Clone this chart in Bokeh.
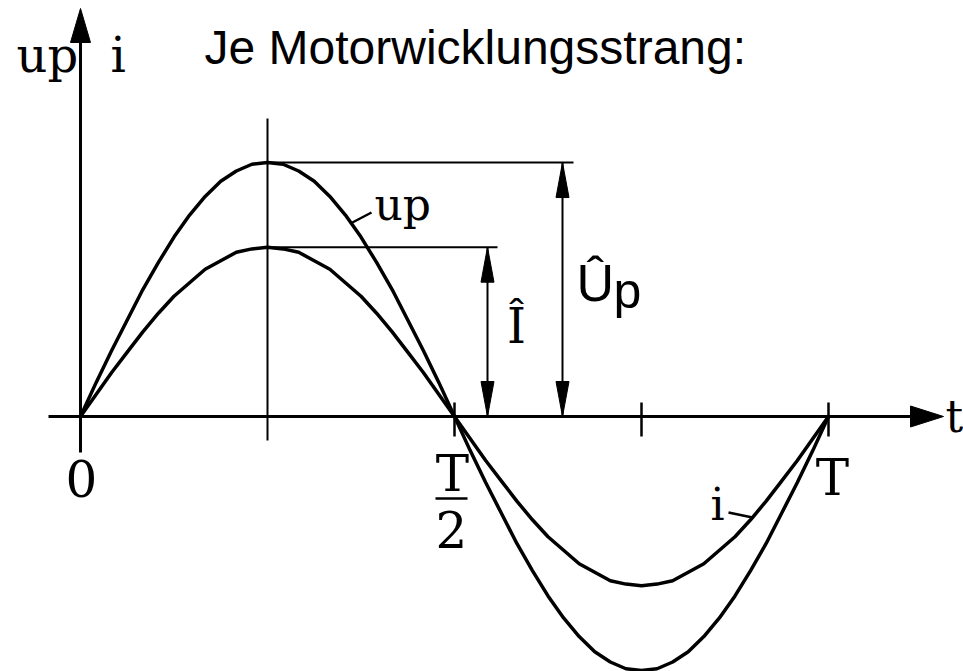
from bokeh.plotting import figure
from bokeh.models import Range1d
from bokeh.core.properties import value
from bokeh.embed import file_html
from bokeh.resources import INLINE

# ---------------- data ----------------
title = "Je Motorwicklungsstrang:"
# sample positions as fractions of the period T (steps of T/48)
phase = [k / 48 for k in range(49)]
up_vals = [0.00, 0.20, 0.39, 0.57, 0.75, 0.91, 1.06, 1.19, 1.30, 1.39, 1.45, 1.49,
           1.50, 1.49, 1.45, 1.39, 1.30, 1.19, 1.06, 0.91, 0.75, 0.57, 0.39, 0.20,
           0.00, -0.20, -0.39, -0.57, -0.75, -0.91, -1.06, -1.19, -1.30, -1.39, -1.45, -1.49,
           -1.50, -1.49, -1.45, -1.39, -1.30, -1.19, -1.06, -0.91, -0.75, -0.57, -0.39, -0.20,
           0.00]
i_vals = [0.00, 0.13, 0.26, 0.38, 0.50, 0.61, 0.71, 0.79, 0.87, 0.92, 0.97, 0.99,
          1.00, 0.99, 0.97, 0.92, 0.87, 0.79, 0.71, 0.61, 0.50, 0.38, 0.26, 0.13,
          0.00, -0.13, -0.26, -0.38, -0.50, -0.61, -0.71, -0.79, -0.87, -0.92, -0.97, -0.99,
          -1.00, -0.99, -0.97, -0.92, -0.87, -0.79, -0.71, -0.61, -0.50, -0.38, -0.26, -0.13,
          0.00]
up_hat = 1.50
i_hat = 1.00
peak_t = 0.25
tick_t = [0.5, 0.75, 1.0]
tick_labels = ["0", "T", "2", "T"]

# ---------------- layout helpers ----------------
W, H = 963, 671
SX, SY = 748.0, 169.3          # pixels per unit (t in T, y in amplitude units)
OX, OY = 80, 416               # picture position of the origin


def X(px):
    return (px - OX) / SX


def Y(py):
    return (OY - py) / SY


def head(tx, ty, dx, dy, L, Wd):
    """Arrow head polygon: tip at (tx,ty) (data), direction (dx,dy) in screen units (y up)."""
    bx, by = -dx * L, -dy * L
    nx, ny = -dy, dx
    xs = [tx, tx + (bx + nx * Wd / 2) / SX, tx + (bx - nx * Wd / 2) / SX]
    ys = [ty, ty + (by + ny * Wd / 2) / SY, ty + (by - ny * Wd / 2) / SY]
    return xs, ys


p = figure(width=W, height=H, x_range=Range1d(X(0), X(W)),
           y_range=Range1d(Y(H), Y(0)), x_axis_type=None, y_axis_type=None,
           toolbar_location=None, output_backend="svg", min_border=0)
p.outline_line_color = None
p.grid.visible = False
p.background_fill_color = "white"
p.border_fill_color = "white"

K = "black"

# axes
p.segment(x0=[X(48)], y0=[0], x1=[X(912)], y1=[0], line_color=K, line_width=3)
hx, hy = head(X(943), 0, 1, 0, 33, 21)
p.patch(hx, hy, color=K)
p.segment(x0=[0], y0=[Y(452)], x1=[0], y1=[Y(40)], line_color=K, line_width=3)
hx, hy = head(0, Y(8), 0, 1, 34, 20)
p.patch(hx, hy, color=K)

# ticks
p.segment(x0=tick_t, y0=[Y(402)] * len(tick_t), x1=tick_t, y1=[Y(436)] * len(tick_t),
          line_color=K, line_width=2.5)
p.segment(x0=[peak_t], y0=[Y(118)], x1=[peak_t], y1=[Y(440)], line_color=K, line_width=2)

# curves
p.line(phase, up_vals, line_color=K, line_width=3.5)
p.line(phase, i_vals, line_color=K, line_width=3.5)

# peak reference lines
p.segment(x0=[peak_t, peak_t], y0=[up_hat, i_hat], x1=[X(573), X(497)], y1=[up_hat, i_hat],
          line_color=K, line_width=2)

# double arrows
for xa, amp in ((X(562), up_hat), (X(487), i_hat)):
    p.segment(x0=[xa], y0=[0], x1=[xa], y1=[amp], line_color=K, line_width=2)
    hx, hy = head(xa, amp, 0, 1, 35, 13)
    p.patch(hx, hy, color=K)
    hx, hy = head(xa, 0, 0, -1, 35, 13)
    p.patch(hx, hy, color=K)

# leader lines for curve labels
p.segment(x0=[X(350), X(728)], y0=[Y(223), Y(512)], x1=[X(371), X(752)], y1=[Y(212), Y(517)],
          line_color=K, line_width=2.5)

SERIF = value("DejaVu Serif")
SANS = value("Liberation Sans")


def txt(px, py, s, font, size, align="left"):
    # py is the wanted baseline; the renderer places alphabetic text ~0.37 em lower
    p.text(x=[X(px)], y=[Y(py - 0.37 * size)], text=[s], text_font=font,
           text_font_size=f"{size}px", text_align=align, text_baseline="alphabetic",
           text_color=K)


# title
txt(204, 65, title, SANS, 48)
# axis labels
txt(16, 72, "up", SERIF, 48)
txt(110, 72, "i", SERIF, 48)
txt(945, 432, "t", SERIF, 44)
# curve labels
txt(374, 220, "up", SERIF, 44)
txt(710, 520, "i", SERIF, 44)
# time labels
txt(81, 496, tick_labels[0], SERIF, 50, "center")
txt(452, 492, tick_labels[1], SERIF, 50, "center")
p.segment(x0=[X(435)], y0=[Y(498)], x1=[X(467)], y1=[Y(498)], line_color=K, line_width=2.5)
txt(451, 547, tick_labels[2], SERIF, 50, "center")
txt(832, 496, tick_labels[3], SERIF, 50, "center")
# amplitude labels
txt(516, 343, "Î", SERIF, 48, "center")
txt(576, 302, "Û", SANS, 52)
txt(613, 309, "p", SANS, 50)

open("out.html", "w").write(file_html(p, INLINE))
